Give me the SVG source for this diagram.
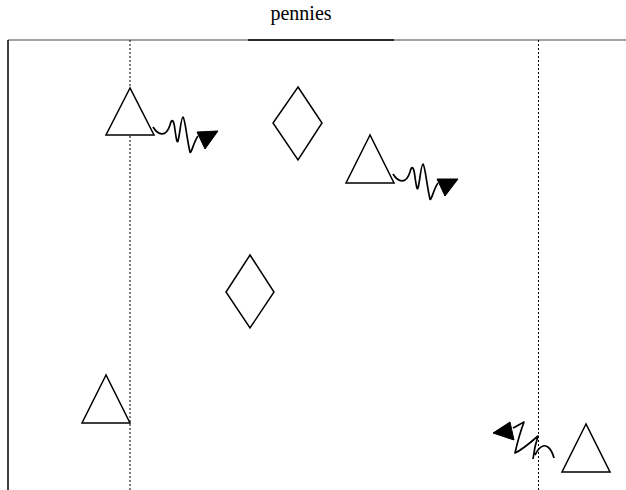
<svg xmlns="http://www.w3.org/2000/svg" width="626" height="490" viewBox="0 0 626 490">
<style>
.shape{fill:#fff;stroke:#000;stroke-width:1.5;stroke-linejoin:miter}
.coil{fill:none;stroke:#000;stroke-width:1.7;stroke-linejoin:round}
.head{fill:#000;stroke:#000;stroke-width:1}
.dot{stroke:#000;stroke-width:1;stroke-dasharray:2,2;fill:none}
.title{font-family:"Liberation Serif","Times New Roman",serif;font-size:20px;fill:#000}
</style>
<rect width="626" height="490" fill="#fff"/>
<g id="frame">
<line x1="8" y1="40" x2="626" y2="40" stroke="#444" stroke-width="1"/>
<line x1="248" y1="40" x2="394" y2="40" stroke="#000" stroke-width="1.5"/>
<line x1="8" y1="40" x2="8" y2="490" stroke="#000" stroke-width="1.5"/>
<text class="title" x="301" y="20" text-anchor="middle">pennies</text>
</g>
<g id="lifelines">
<line class="dot" x1="130" y1="40" x2="130" y2="490"/>
<line class="dot" x1="538.5" y1="40" x2="538.5" y2="490"/>
</g>
<g id="tri1"><polygon class="shape" points="130,88 106,135 154,135"/></g>
<g id="tri2"><polygon class="shape" points="370,135 346,183 394,183"/></g>
<g id="tri3"><polygon class="shape" points="106,375 82,423 130,423"/></g>
<g id="tri4"><polygon class="shape" points="586,424 562,472 610,472"/></g>
<g id="dia1"><polygon class="shape" points="298,87 322,123 298,160 273,123"/></g>
<g id="dia2"><polygon class="shape" points="250,255 274,292 250,328 226,292"/></g>
<g id="connectors">
<path class="coil" d="M153,127 C158,135 166,138 170,125 C172,117 174,121 175,130 C176,137 177,144 178,141 C180,134 181,117 183,117 C185,118 187,140 190,152 C191,155 194,141 198,136"/>
<polygon class="head" points="197,132 218,131 205,149"/>
<path class="coil" d="M393,174 C398,182 406,185 410,172 C412,164 414,168 415,177 C416,184 417,191 418,188 C420,181 421,164 423,164 C425,165 427,187 430,199 C431,202 434,188 438,183"/>
<polygon class="head" points="437,179 458,179 445,196"/>
<path class="coil" d="M554,458 C551,447 546,445 543,446 C540,447 537,451 535,455 M533,459 C534,451 536,442 538,436 C530,443 522,450 515,453 C517,444 521,430 524,422 C520,424 516,427 513,428"/>
<polygon class="head" points="493,433 510,422 514,440"/>
</g>
</svg>
